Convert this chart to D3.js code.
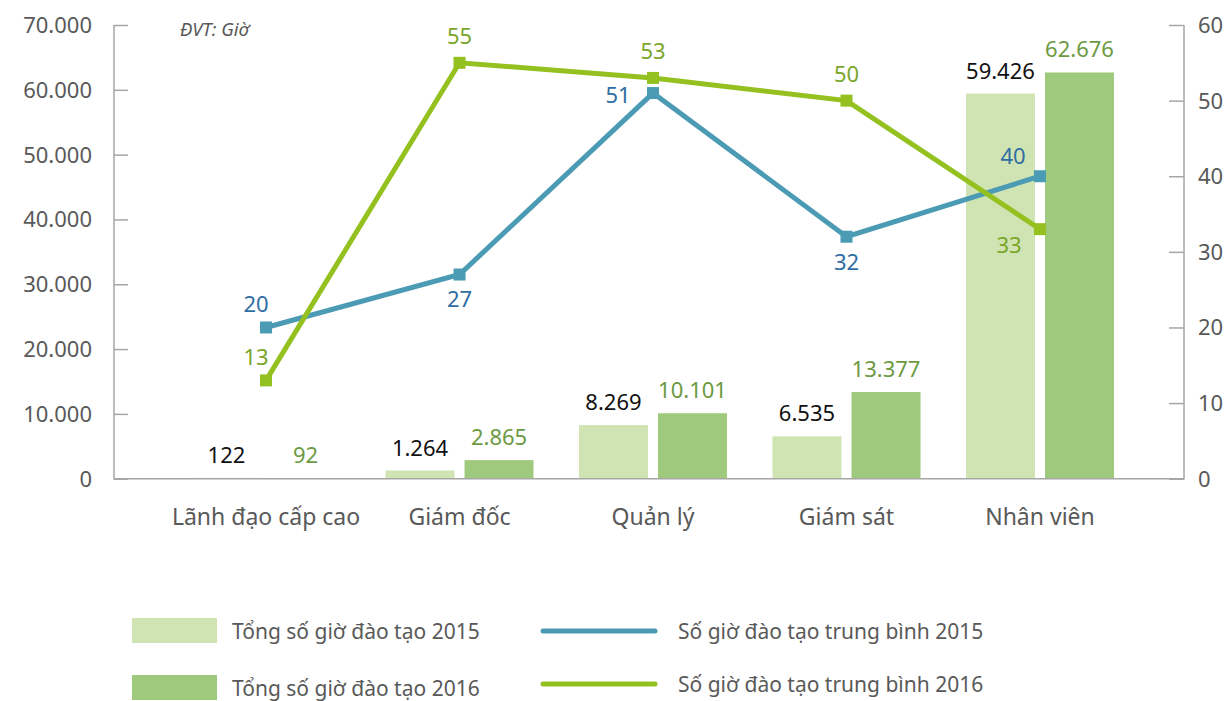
<!DOCTYPE html>
<html>
<head>
<meta charset="utf-8">
<script src="https://cdn.jsdelivr.net/npm/d3@7"></script>
<style>
  html, body { margin: 0; padding: 0; background: #fff; }
  svg { display: block; font-family: "Noto Sans", "Open Sans", sans-serif; }
</style>
</head>
<body>
<svg id="chart" width="1224" height="701"></svg>
<script>
// Training hours by staff level, 2015 vs 2016
const categories = ["Lãnh đạo cấp cao", "Giám đốc", "Quản lý", "Giám sát", "Nhân viên"];
const totalHours2015 = [122, 1264, 8269, 6535, 59426];
const totalHours2016 = [92, 2865, 10101, 13377, 62676];
const avgHours2015 = [20, 27, 51, 32, 40];
const avgHours2016 = [13, 55, 53, 50, 33];
const leftTicks = [0, 10000, 20000, 30000, 40000, 50000, 60000, 70000];
const rightTicks = [0, 10, 20, 30, 40, 50, 60];
const seriesNames = ["Tổng số giờ đào tạo 2015", "Tổng số giờ đào tạo 2016",
                     "Số giờ đào tạo trung bình 2015", "Số giờ đào tạo trung bình 2016"];
const unitNote = "ĐVT: Giờ";

// where each average label sits relative to its marker
const avgLabelPlace2015 = ["aboveLeft", "below", "left", "below", "aboveLeftFar"];
const avgLabelPlace2016 = ["aboveLeft", "above", "above", "above", "belowLeft"];
const placeOffsets = {
  above: [0, -27], below: [0, 25], left: [-35, 2],
  aboveLeft: [-10, -23], aboveLeftFar: [-27, -20], belowLeft: [-31, 16]
};

const colors = {
  bar2015: "#d0e3b2", bar2016: "#9fca7e",
  line2015: "#4b9bb4", line2016: "#94c11f",
  lbl2015: "#111111", lbl2016: "#6c9a42",
  avgLbl2015: "#2f6da3", avgLbl2016: "#7aa62a",
  axis: "#a6a6a6", tickText: "#595959"
};

const fmt = d3.formatLocale({ decimal: ",", thousands: ".", grouping: [3], currency: ["", ""] }).format(",d");

const svg = d3.select("#chart");
const plot = { left: 114, right: 1184, top: 25, bottom: 478.7 };

const x0 = d3.scaleBand().domain(categories).range([plot.left + 4, plot.right + 4])
  .paddingInner(0.235).paddingOuter(0.3825);
const x1 = d3.scaleBand().domain(["2015", "2016"]).range([0, x0.bandwidth()]).paddingInner(0.127);
const yL = d3.scaleLinear().domain([0, 70000]).range([plot.bottom, plot.top]);
const yR = d3.scaleLinear().domain([0, 60]).range([plot.bottom, plot.top]);
const cx = c => x0(c) + x0.bandwidth() / 2;

// Bars
const barSeries = [
  { key: "2015", values: totalHours2015, fill: colors.bar2015, lbl: colors.lbl2015 },
  { key: "2016", values: totalHours2016, fill: colors.bar2016, lbl: colors.lbl2016 }
];
barSeries.forEach(s => {
  const g = svg.append("g");
  g.selectAll("rect").data(categories).join("rect")
    .attr("x", c => x0(c) + x1(s.key))
    .attr("width", x1.bandwidth())
    .attr("y", (c, i) => yL(s.values[i]))
    .attr("height", (c, i) => yL(0) - yL(s.values[i]))
    .attr("fill", s.fill);
  g.selectAll("text").data(categories).join("text")
    .attr("x", c => x0(c) + x1(s.key) + x1.bandwidth() / 2)
    .attr("y", (c, i) => yL(s.values[i]) - 15)
    .attr("text-anchor", "middle")
    .attr("font-size", 22)
    .attr("fill", s.lbl)
    .text((c, i) => fmt(s.values[i]));
});

// Axes
const leftAxis = d3.axisRight(yL).tickValues(leftTicks).tickSize(14).tickFormat("");
const gl = svg.append("g").attr("transform", `translate(${plot.left},0)`).call(leftAxis);
gl.select(".domain").remove();
gl.selectAll("line").attr("stroke", colors.axis).attr("stroke-width", 1.5);
svg.selectAll(".ltick").data(leftTicks).join("text").attr("class", "ltick")
  .attr("x", 92).attr("y", d => yL(d)).attr("dy", "0.36em")
  .attr("text-anchor", "end").attr("font-size", 22).attr("fill", colors.tickText)
  .text(d => fmt(d));

const rightAxis = d3.axisLeft(yR).tickValues(rightTicks).tickSize(15).tickFormat("");
const gr = svg.append("g").attr("transform", `translate(${plot.right},0)`).call(rightAxis);
gr.select(".domain").remove();
gr.selectAll("line").attr("stroke", colors.axis).attr("stroke-width", 1.5);
svg.selectAll(".rtick").data(rightTicks).join("text").attr("class", "rtick")
  .attr("x", 1198).attr("y", d => yR(d)).attr("dy", "0.36em")
  .attr("text-anchor", "start").attr("font-size", 22).attr("fill", colors.tickText)
  .text(d => d);

// axis frame lines
svg.append("path")
  .attr("d", `M${plot.left},${plot.top}V${plot.bottom}H${plot.right}V${plot.top}`)
  .attr("fill", "none").attr("stroke", colors.axis).attr("stroke-width", 1.5);

// Category labels
svg.selectAll(".cat").data(categories).join("text").attr("class", "cat")
  .attr("x", cx).attr("y", 517).attr("dy", "0.36em")
  .attr("text-anchor", "middle").attr("font-size", 23).attr("fill", colors.tickText)
  .text(d => d);

// Lines with square markers
const lineSeries = [
  { values: avgHours2015, color: colors.line2015, lbl: colors.avgLbl2015, place: avgLabelPlace2015 },
  { values: avgHours2016, color: colors.line2016, lbl: colors.avgLbl2016, place: avgLabelPlace2016 }
];
const line = d3.line().x(d => cx(d.c)).y(d => yR(d.v));
lineSeries.forEach(s => {
  const pts = categories.map((c, i) => ({ c, v: s.values[i], i }));
  const g = svg.append("g");
  g.append("path").datum(pts).attr("d", line)
    .attr("fill", "none").attr("stroke", s.color).attr("stroke-width", 5)
    .attr("stroke-linejoin", "miter");
  g.selectAll("rect").data(pts).join("rect")
    .attr("x", d => cx(d.c) - 6).attr("y", d => yR(d.v) - 6)
    .attr("width", 12).attr("height", 12).attr("fill", s.color);
  g.selectAll("text").data(pts).join("text")
    .attr("x", d => cx(d.c) + placeOffsets[s.place[d.i]][0])
    .attr("y", d => yR(d.v) + placeOffsets[s.place[d.i]][1])
    .attr("dy", "0.36em").attr("text-anchor", "middle")
    .attr("font-size", 22).attr("fill", s.lbl)
    .text(d => d.v);
});

// Unit note
svg.append("text").attr("x", 180).attr("y", 29).attr("dy", "0.36em")
  .attr("font-size", 18.5).attr("font-style", "italic").attr("fill", colors.tickText)
  .text(unitNote);

// Legend
const legend = svg.append("g");
[[seriesNames[0], colors.bar2015, 631], [seriesNames[1], colors.bar2016, 688]].forEach(([name, col, y]) => {
  legend.append("rect").attr("x", 132).attr("y", y - 13).attr("width", 85).attr("height", 25).attr("fill", col);
  legend.append("text").attr("x", 232).attr("y", y).attr("dy", "0.36em")
    .attr("font-size", 21).attr("fill", colors.tickText).text(name);
});
[[seriesNames[2], colors.line2015, 631], [seriesNames[3], colors.line2016, 684]].forEach(([name, col, y]) => {
  legend.append("line").attr("x1", 543).attr("x2", 655).attr("y1", y).attr("y2", y)
    .attr("stroke", col).attr("stroke-width", 5).attr("stroke-linecap", "round");
  legend.append("text").attr("x", 678).attr("y", y).attr("dy", "0.36em")
    .attr("font-size", 21).attr("fill", colors.tickText).text(name);
});
</script>
</body>
</html>
